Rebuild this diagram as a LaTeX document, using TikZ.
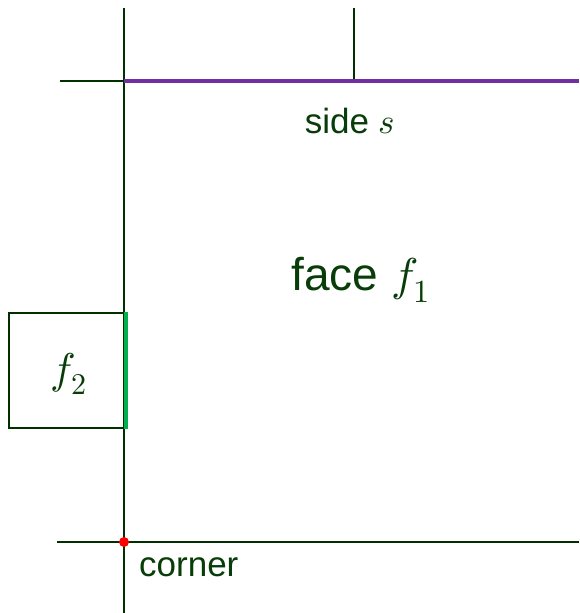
\documentclass[tikz,border=0pt]{standalone}
\usepackage{fontspec}
\usepackage{unicode-math}
\setmainfont{Liberation Sans}
\setmathfont{Latin Modern Math}
\begin{document}
\begin{tikzpicture}[x=1pt,y=-1pt,
  grid/.style={draw=linegreen,line width=1.9pt},
  sidestyle/.style={draw=sidepurple,line width=4pt},
  edgestyle/.style={draw=edgegreen,line width=4pt},
  label/.style={text=textgreen,inner sep=0pt}]
\definecolor{linegreen}{RGB}{0,48,0}
\definecolor{textgreen}{RGB}{8,60,8}
\definecolor{sidepurple}{RGB}{112,48,160}
\definecolor{edgegreen}{RGB}{0,176,80}
\useasboundingbox (0,0) rectangle (579,613);

% grid lines
\coordinate (vtop) at (124,8);
\coordinate (vbot) at (124,613);
\coordinate (htl) at (60,81);
\coordinate (corner) at (124,542);
\coordinate (sidel) at (124,81);
\coordinate (sider) at (579,81);
\coordinate (ticktop) at (354,8);
\coordinate (tickbot) at (354,81);
\coordinate (hbl) at (57,542);
\coordinate (hbr) at (579,542);

\draw[grid] (vtop) -- (vbot);
\draw[grid] (htl) -- (sidel);
\draw[grid] (ticktop) -- (tickbot);
\draw[grid] (hbl) -- (hbr);
\draw[sidestyle] (sidel) -- (sider);

% neighbouring face f2
\node[draw=linegreen,line width=1.5pt,minimum width=116pt,minimum height=115pt,
  anchor=north west,inner sep=0pt] (f2box) at (8,312) {};
\draw[edgestyle] (f2box.north east) -- (f2box.south east);
\node[label,font=\fontsize{43}{48}\selectfont] (f2) at (69,374) {$f_2$};

% corner point
\fill[red] (corner) circle (5pt);

% labels
\node[label,font=\fontsize{35}{40}\selectfont] (side) at (350,121) {side $s$};
\node[label,font=\fontsize{46}{52}\selectfont] (face) at (361,280) {face $f_1$};
\node[label,font=\fontsize{35}{40}\selectfont,anchor=west] (cornertxt) at (139,567) {corner};
\end{tikzpicture}
\end{document}
